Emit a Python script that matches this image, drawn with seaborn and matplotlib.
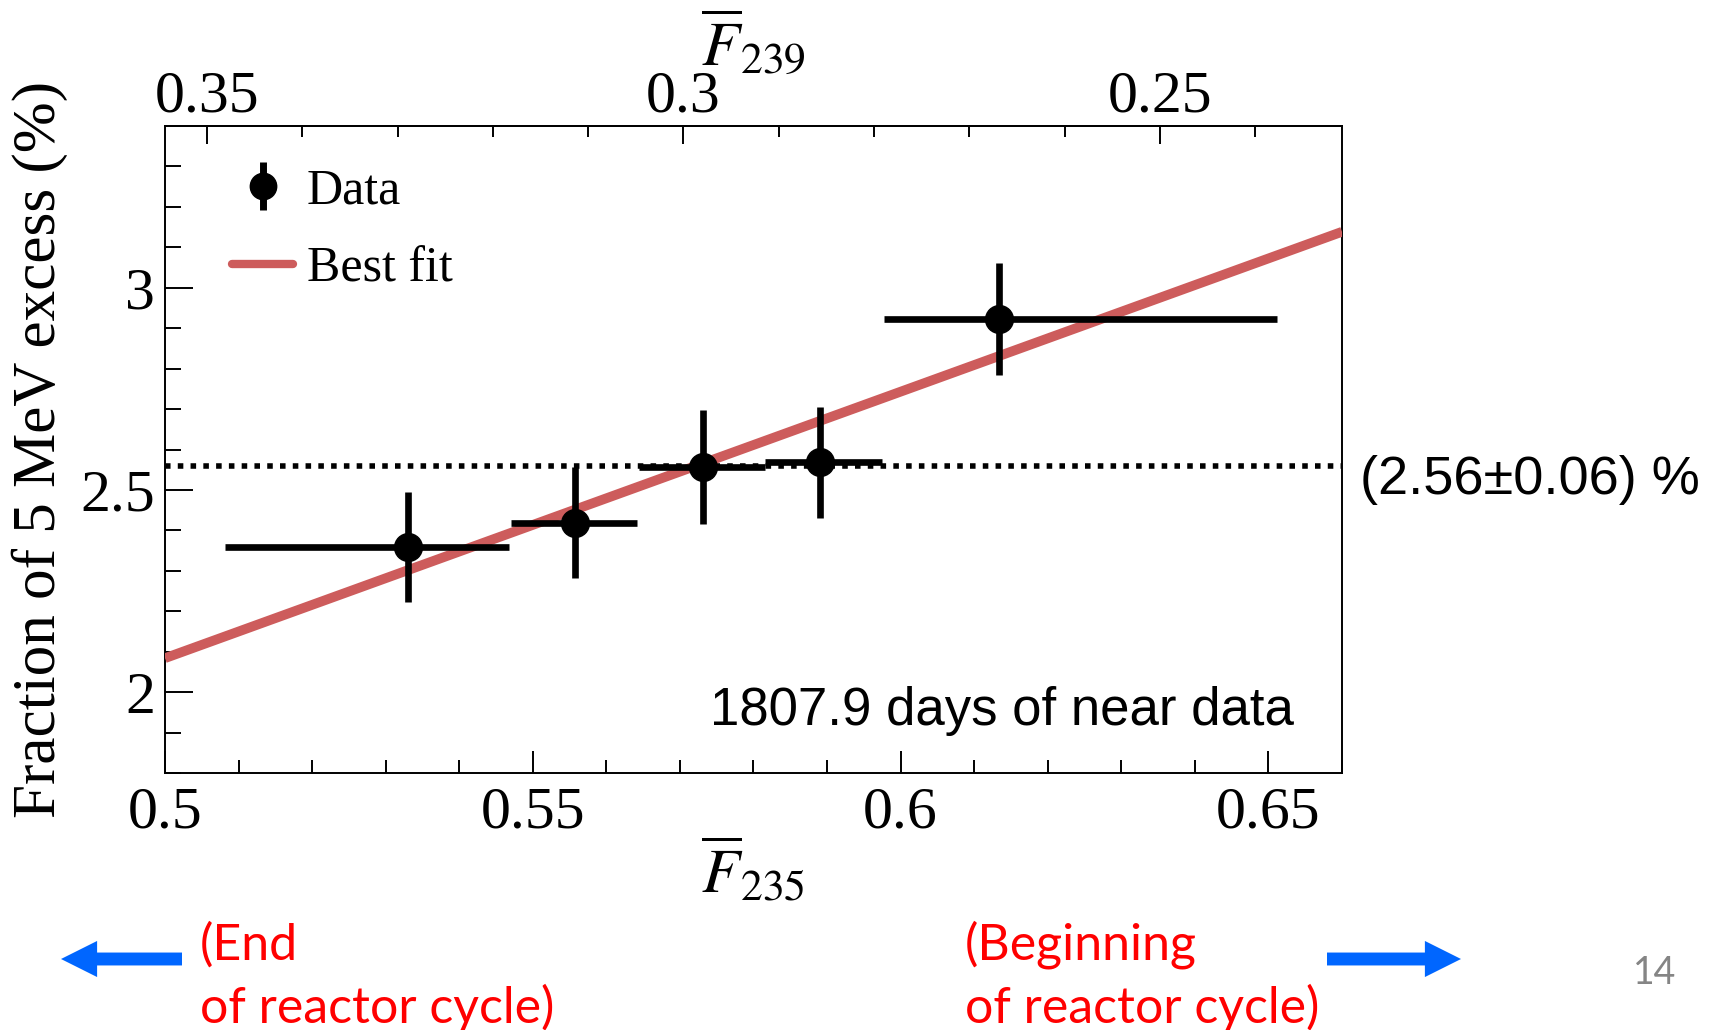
import numpy as np
import matplotlib
matplotlib.use("Agg")
import matplotlib.pyplot as plt
from matplotlib.lines import Line2D
from matplotlib.legend_handler import HandlerTuple
from matplotlib.ticker import MultipleLocator, FixedLocator
import seaborn as sns

# Mean U-235 fission fraction per bin and the fitted 5 MeV excess fraction
f235_center = [0.5331, 0.5558, 0.5731, 0.5890, 0.6134]
f235_low = [0.5082, 0.5470, 0.5645, 0.5816, 0.5978]
f235_high = [0.5467, 0.5642, 0.5816, 0.5975, 0.6512]
excess_frac = [2.359, 2.419, 2.557, 2.568, 2.922]
excess_err = [0.135, 0.137, 0.140, 0.137, 0.139]

# Linear best fit: fraction = fit_intercept + fit_slope * (F235 - 0.5)
fit_intercept = 2.084
fit_slope = 6.59

# Average excess fraction
mean_frac = 2.56
mean_frac_label = "(2.56\u00b10.06) %"

x_limits = (0.5, 0.66)
y_limits = (1.8, 3.4)
x_major_ticks = [0.5, 0.55, 0.6, 0.65]
x_tick_labels = ["0.5", "0.55", "0.6", "0.65"]
y_major_ticks = [2.0, 2.5, 3.0]
y_tick_labels = ["2", "2.5", "3"]
top_major_ticks = [0.35, 0.30, 0.25]
top_tick_labels = ["0.35", "0.3", "0.25"]

# Approximate linear relation between mean Pu-239 and U-235 fission fractions
f239_offset = 0.7404
f239_slope = 0.772

sns.set_style("ticks")
plt.rcParams["font.family"] = ["Liberation Serif", "DejaVu Serif"]
plt.rcParams["mathtext.fontset"] = "stix"
plt.rcParams["text.color"] = "black"
plt.rcParams["axes.labelcolor"] = "black"
plt.rcParams["xtick.color"] = "black"
plt.rcParams["ytick.color"] = "black"

W, H = 1723, 1030
fig = plt.figure(figsize=(W / 100, H / 100), dpi=100)
L, R, T, B = 165, 1342, 126, 773
ax = fig.add_axes([L / W, 1 - B / H, (R - L) / W, (B - T) / H])

fit_color = "#cd5c5c"

# Horizontal dotted line at the average value
ax.axhline(mean_frac, color="black", lw=4, ls=(0, (1, 1.3)), zorder=2,
           dash_capstyle="butt")

# Best fit line across the full x range
fit_x = np.array(x_limits)
fit_y = fit_intercept + fit_slope * (fit_x - 0.5)
sns.lineplot(x=fit_x, y=fit_y, ax=ax, color=fit_color, lw=7, zorder=3,
             solid_capstyle="butt")

# Data points with bin-width horizontal bars
xc = np.array(f235_center)
xerr = [xc - np.array(f235_low), np.array(f235_high) - xc]
ax.errorbar(xc, excess_frac, xerr=xerr, yerr=excess_err, fmt="o",
            color="black", ms=20, elinewidth=4.8, capsize=0, zorder=4)

ax.set_xlim(*x_limits)
ax.set_ylim(*y_limits)

ax.xaxis.set_major_locator(FixedLocator(x_major_ticks))
ax.set_xticklabels(x_tick_labels)
ax.xaxis.set_minor_locator(MultipleLocator(0.01))
ax.yaxis.set_major_locator(FixedLocator(y_major_ticks))
ax.set_yticklabels(y_tick_labels)
ax.yaxis.set_minor_locator(MultipleLocator(0.1))

ax.tick_params(axis="both", which="both", direction="in", color="black",
               width=1.4, labelsize=43, labelcolor="black")
ax.tick_params(axis="x", which="major", length=16, pad=10)
ax.tick_params(axis="x", which="minor", length=9.5)
ax.tick_params(axis="y", which="major", length=20, pad=7)
ax.tick_params(axis="y", which="minor", length=11.5)
ax.tick_params(top=False, right=False, which="both")

for sp in ax.spines.values():
    sp.set_visible(True)
    sp.set_color("black")
    sp.set_linewidth(1.4)


# Top axis: mean Pu-239 fission fraction
def to_f239(x):
    return f239_offset - f239_slope * np.asarray(x)


def to_f235(x):
    return (f239_offset - np.asarray(x)) / f239_slope


secax = ax.secondary_xaxis("top", functions=(to_f239, to_f235))
secax.xaxis.set_major_locator(FixedLocator(top_major_ticks))
secax.set_xticklabels(top_tick_labels)
secax.xaxis.set_minor_locator(MultipleLocator(0.01))
secax.tick_params(axis="x", which="both", direction="in", color="black",
                  width=1.4, labelsize=43, labelcolor="black")
secax.tick_params(axis="x", which="major", length=13, pad=1)
secax.tick_params(axis="x", which="minor", length=8)
secax.spines["top"].set_linewidth(1.4)

# Axis titles
ax.text(0.5, (B - 872) / (B - T), r"$\overline{F}_{235}$", transform=ax.transAxes,
        ha="center", va="center", fontsize=45, color="black")
ax.text(0.5, (B - 44) / (B - T), r"$\overline{F}_{239}$", transform=ax.transAxes,
        ha="center", va="center", fontsize=45, color="black")
ax.text((40 - L) / (R - L), 0.5, "Fraction of 5 MeV excess (%)",
        transform=ax.transAxes, rotation=90, ha="center", va="center",
        fontsize=44, color="black")

# Legend
data_handle = (Line2D([], [], ls="none", marker="|", ms=34, mew=5, color="black"),
               Line2D([], [], ls="none", marker="o", ms=19, color="black"))
fit_handle = Line2D([], [], color=fit_color, lw=6)
ax.legend([data_handle, fit_handle], ["Data", "Best fit"],
          handler_map={tuple: HandlerTuple(ndivide=1)},
          loc="upper left", bbox_to_anchor=((232 - L) / (R - L), (B - 168) / (B - T)),
          frameon=False, fontsize=36, handlelength=1.22, handletextpad=0.28,
          labelspacing=0.62, borderpad=0, borderaxespad=0, labelcolor="black")

sans = ["Liberation Sans", "DejaVu Sans"]
ax.text((1294 - L) / (R - L), (B - 725) / (B - T), "1807.9 days of near data",
        transform=ax.transAxes, ha="right", va="baseline", fontsize=38,
        family=sans, color="black")
ax.text((1360 - L) / (R - L), (B - 494) / (B - T), mean_frac_label,
        transform=ax.transAxes, ha="left", va="baseline", fontsize=39,
        family=sans, color="black", clip_on=False)

# Reactor cycle direction notes
note_font = ["Lato", "DejaVu Sans"]
blue = "#0066ff"
arrow_style = "simple,head_length=2.6,head_width=2.6,tail_width=0.93"


def fpos(px, py):
    return (px / W, 1 - py / H)


ax.annotate("", xy=fpos(61, 959), xytext=fpos(182, 959),
            xycoords="figure fraction", textcoords="figure fraction",
            arrowprops=dict(arrowstyle=arrow_style, mutation_scale=10,
                            color=blue, shrinkA=0, shrinkB=0, lw=0))
ax.annotate("", xy=fpos(1461, 959), xytext=fpos(1327, 959),
            xycoords="figure fraction", textcoords="figure fraction",
            arrowprops=dict(arrowstyle=arrow_style, mutation_scale=10,
                            color=blue, shrinkA=0, shrinkB=0, lw=0))

note_size = 36
fig.text(*fpos(200, 945), "(End", color="red", fontsize=note_size,
         family=note_font, ha="left", va="center")
fig.text(*fpos(200, 1008), "of reactor cycle)", color="red", fontsize=note_size,
         family=note_font, ha="left", va="center")
fig.text(*fpos(965, 945), "(Beginning", color="red", fontsize=note_size,
         family=note_font, ha="left", va="center")
fig.text(*fpos(965, 1008), "of reactor cycle)", color="red", fontsize=note_size,
         family=note_font, ha="left", va="center")

fig.text(*fpos(1655, 973), "14", color="#858585", fontsize=27,
         family=["Lato", "DejaVu Sans"], ha="center", va="center")

fig.savefig("out.png", dpi=100, facecolor="white")
